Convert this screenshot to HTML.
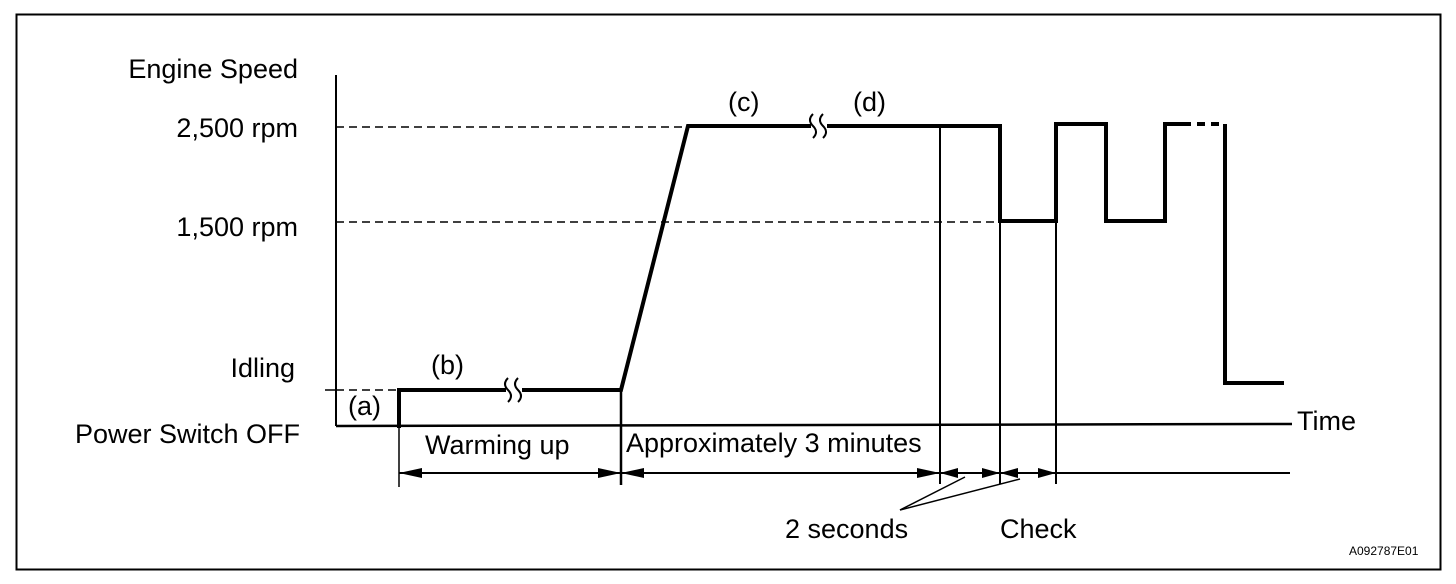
<!DOCTYPE html><html><head><style>body{margin:0;background:#fff}svg{display:block}</style></head><body>
<svg width="1456" height="584" xmlns="http://www.w3.org/2000/svg" font-family="Liberation Sans, sans-serif" fill="#000">
<rect x="16.5" y="14.5" width="1424" height="555" fill="none" stroke="#000" stroke-width="2"/>
<g stroke="#000" fill="none">
<line x1="336" y1="75" x2="336" y2="426" stroke-width="2"/>
<line x1="336" y1="426" x2="1292" y2="424" stroke-width="2.5"/>
<line x1="325" y1="390" x2="336" y2="390" stroke-width="1.5"/>
<line x1="336" y1="390" x2="399" y2="390" stroke-width="1.5" stroke-dasharray="8,5"/>
<line x1="336" y1="127" x2="688" y2="127" stroke-width="1.5" stroke-dasharray="8,5"/>
<line x1="336" y1="222" x2="1000" y2="222" stroke-width="1.5" stroke-dasharray="8,5"/>
<polyline points="399,428 399,390 621,390 688,126 1000,126 1000,221 1056,221 1056,124 1106,124 1106,221 1165,221 1165,124 1183,124" stroke-width="4"/>
<line x1="1183" y1="124" x2="1222" y2="124" stroke-width="4" stroke-dasharray="8,6"/>
<polyline points="1225,124 1225,383 1284,383" stroke-width="4"/>
<line x1="399" y1="426" x2="399" y2="487" stroke-width="1.5"/>
<line x1="621" y1="390" x2="621" y2="485" stroke-width="2.5"/>
<line x1="940" y1="126" x2="940" y2="484" stroke-width="2"/>
<line x1="1000" y1="221" x2="1000" y2="484" stroke-width="2"/>
<line x1="1056" y1="221" x2="1056" y2="484" stroke-width="2"/>
<line x1="399" y1="473" x2="1290" y2="473" stroke-width="2"/>
<line x1="900" y1="510" x2="965" y2="477" stroke-width="1.5"/>
<line x1="900" y1="510" x2="1020" y2="479" stroke-width="1.5"/>
</g>
<rect x="506" y="378" width="16" height="24" fill="#fff"/>
<rect x="811" y="114" width="16" height="24" fill="#fff"/>
<g stroke="#000" stroke-width="2" fill="none">
<path d="M508,378 q-6,6 0,12 q6,6 0,12"/><path d="M518,378 q-6,6 0,12 q6,6 0,12"/>
<path d="M813,114 q-6,6 0,12 q6,6 0,12"/><path d="M823,114 q-6,6 0,12 q6,6 0,12"/>
</g>
<g>
<polygon points="399,473 422,468 422,478"/><polygon points="621,473 598,468 598,478"/>
<polygon points="621,473 644,468 644,478"/><polygon points="940,473 917,468 917,478"/>
<polygon points="940,473 958,468 958,478"/><polygon points="1000,473 982,468 982,478"/>
<polygon points="1000,473 1018,468 1018,478"/><polygon points="1056,473 1038,468 1038,478"/>
</g>
<g font-size="27">
<text x="298" y="78" text-anchor="end">Engine Speed</text>
<text x="298" y="137" text-anchor="end">2,500 rpm</text>
<text x="298" y="236" text-anchor="end">1,500 rpm</text>
<text x="295" y="377" text-anchor="end">Idling</text>
<text x="300" y="443" text-anchor="end">Power Switch OFF</text>
<text x="348" y="415">(a)</text>
<text x="431" y="374">(b)</text>
<text x="728" y="111">(c)</text>
<text x="853" y="111">(d)</text>
<text x="425" y="454">Warming up</text>
<text x="626" y="452">Approximately 3 minutes</text>
<text x="1297" y="430">Time</text>
<text x="785" y="538">2 seconds</text>
<text x="1000" y="538">Check</text>
</g>
<text x="1349" y="555" font-size="12">A092787E01</text>
</svg></body></html>
